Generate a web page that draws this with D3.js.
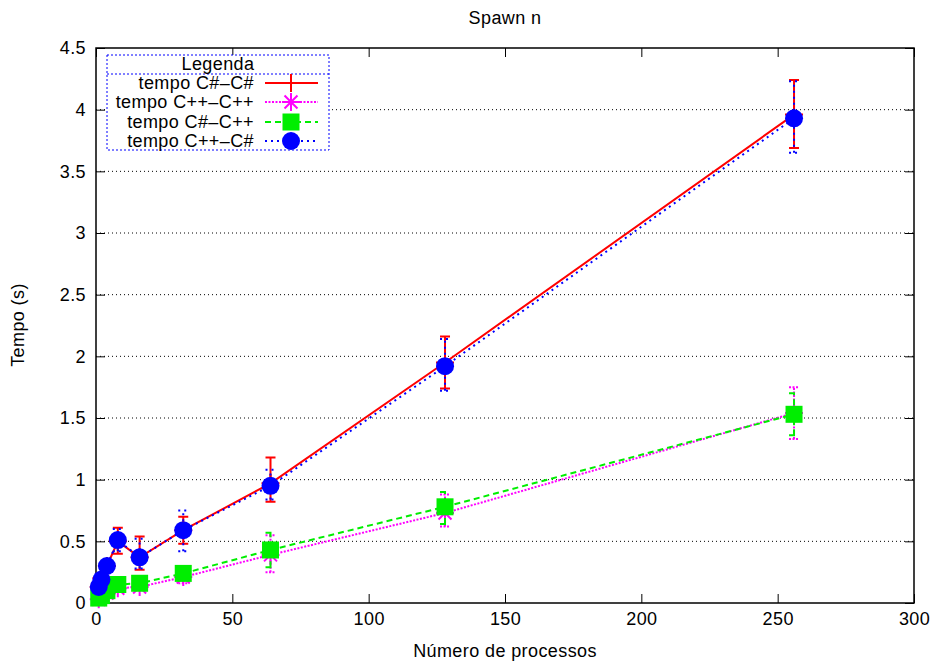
<!DOCTYPE html>
<html>
<head>
<meta charset="utf-8">
<script src="https://cdn.jsdelivr.net/npm/d3@7"></script>
<style>
  body { margin: 0; background: #fff; }
  svg { display: block; font-family: "Liberation Sans", Arial, sans-serif; }
  svg text { letter-spacing: 0.4px; }
</style>
</head>
<body>
<svg id="chart" width="934" height="661"></svg>
<script>
// Number of spawned processes
const procs = [1, 2, 4, 8, 16, 32, 64, 128, 256];

// Mean time (s) and error range for each language pairing
const csCsMean = [0.13, 0.20, 0.30, 0.50, 0.37, 0.59, 0.97, 1.95, 3.96];
const csCsLow  = [0.11, 0.17, 0.27, 0.40, 0.27, 0.48, 0.82, 1.74, 3.69];
const csCsHigh = [0.15, 0.23, 0.33, 0.61, 0.54, 0.70, 1.18, 2.16, 4.24];

const cppCppMean = [0.03, 0.05, 0.08, 0.12, 0.13, 0.21, 0.39, 0.73, 1.54];
const cppCppLow  = [0.01, 0.03, 0.06, 0.10, 0.11, 0.16, 0.25, 0.62, 1.33];
const cppCppHigh = [0.05, 0.07, 0.10, 0.17, 0.18, 0.27, 0.55, 0.88, 1.75];

const csCppMean = [0.04, 0.06, 0.10, 0.15, 0.16, 0.24, 0.43, 0.78, 1.53];
const csCppLow  = [0.02, 0.04, 0.08, 0.13, 0.14, 0.20, 0.29, 0.64, 1.36];
const csCppHigh = [0.06, 0.08, 0.12, 0.18, 0.19, 0.29, 0.57, 0.90, 1.70];

const cppCsMean = [0.13, 0.19, 0.30, 0.51, 0.37, 0.59, 0.95, 1.92, 3.93];
const cppCsLow  = [0.11, 0.16, 0.27, 0.42, 0.28, 0.42, 0.84, 1.72, 3.65];
const cppCsHigh = [0.15, 0.22, 0.33, 0.60, 0.52, 0.75, 1.08, 2.14, 4.23];

const seriesNames = ["tempo C#\u2013C#", "tempo C++\u2013C++", "tempo C#\u2013C++", "tempo C++\u2013C#"];

const xTicks = [0, 50, 100, 150, 200, 250, 300];
const yTicks = [0, 0.5, 1, 1.5, 2, 2.5, 3, 3.5, 4, 4.5];

const series = [
  { name: seriesNames[0], mean: csCsMean, low: csCsLow, high: csCsHigh,
    color: "#ff0000", dash: null, symbol: "plus" },
  { name: seriesNames[1], mean: cppCppMean, low: cppCppLow, high: cppCppHigh,
    color: "#ff00ff", dash: "2,1.5", symbol: "star" },
  { name: seriesNames[2], mean: csCppMean, low: csCppLow, high: csCppHigh,
    color: "#00ee00", dash: "6,4", symbol: "square" },
  { name: seriesNames[3], mean: cppCsMean, low: cppCsLow, high: cppCsHigh,
    color: "#0000ff", dash: "2,4", symbol: "circle" }
];

const FS = 18;
const svg = d3.select("#chart");
const plotL = 96, plotR = 914, plotT = 48, plotB = 603;

const x = d3.scaleLinear().domain([0, 300]).range([plotL, plotR]);
const y = d3.scaleLinear().domain([0, 4.5]).range([plotB, plotT]);

// Horizontal dotted grid
svg.append("g").selectAll("line")
  .data(yTicks.filter(t => t > 0 && t < 4.5))
  .join("line")
  .attr("x1", plotL).attr("x2", plotR)
  .attr("y1", d => y(d)).attr("y2", d => y(d))
  .attr("stroke", "#000").attr("stroke-width", 1)
  .attr("stroke-dasharray", "1,3");

// Axes with inward ticks, mirrored on top/right
const tickLen = 9;
const axB = svg.append("g").attr("transform", `translate(0,${plotB})`)
  .call(d3.axisBottom(x).tickValues(xTicks).tickSize(-tickLen).tickPadding(9).tickFormat(d3.format("d")));
const axT = svg.append("g").attr("transform", `translate(0,${plotT})`)
  .call(d3.axisTop(x).tickValues(xTicks).tickSize(-tickLen).tickFormat(""));
const axL = svg.append("g").attr("transform", `translate(${plotL},0)`)
  .call(d3.axisLeft(y).tickValues(yTicks).tickSize(-tickLen).tickPadding(10).tickFormat(d => String(d)));
const axR = svg.append("g").attr("transform", `translate(${plotR},0)`)
  .call(d3.axisRight(y).tickValues(yTicks).tickSize(-tickLen).tickFormat(""));
[axB, axT, axL, axR].forEach(a => {
  a.select(".domain").remove();
  a.selectAll("line").attr("stroke", "#000").attr("stroke-width", 1);
  a.selectAll("text").attr("font-size", FS).attr("fill", "#000")
    .attr("font-family", "'Liberation Sans', Arial, sans-serif");
});

// Frame
svg.append("rect").attr("x", plotL).attr("y", plotT)
  .attr("width", plotR - plotL).attr("height", plotB - plotT)
  .attr("fill", "none").attr("stroke", "#000").attr("stroke-width", 1.5);

// Symbol drawing
function drawSymbol(g, type, cx, cy, color) {
  if (type === "plus") {
    g.append("path").attr("d", `M${cx - 9},${cy}H${cx + 9}M${cx},${cy - 9}V${cy + 9}`)
      .attr("stroke", color).attr("stroke-width", 2).attr("fill", "none");
  } else if (type === "star") {
    const r = 9;
    let d = `M${cx - r},${cy}H${cx + r}M${cx},${cy - r}V${cy + r}`;
    const q = r * 0.72;
    d += `M${cx - q},${cy - q}L${cx + q},${cy + q}M${cx - q},${cy + q}L${cx + q},${cy - q}`;
    g.append("path").attr("d", d).attr("stroke", color).attr("stroke-width", 2).attr("fill", "none");
  } else if (type === "square") {
    g.append("rect").attr("x", cx - 8.5).attr("y", cy - 8.5).attr("width", 17).attr("height", 17)
      .attr("fill", color);
  } else if (type === "circle") {
    g.append("circle").attr("cx", cx).attr("cy", cy).attr("r", 9).attr("fill", color);
  }
}

const line = d3.line().x(d => x(d[0])).y(d => y(d[1]));

series.forEach(s => {
  const g = svg.append("g");
  const pts = procs.map((p, i) => [p, s.mean[i], s.low[i], s.high[i]]);
  // error bars
  pts.forEach(p => {
    const px = x(p[0]), yl = y(p[2]), yh = y(p[3]);
    g.append("path")
      .attr("d", `M${px},${yl}V${yh}M${px - 5},${yl}H${px + 5}M${px - 5},${yh}H${px + 5}`)
      .attr("stroke", s.color).attr("stroke-width", 2).attr("fill", "none")
      .attr("stroke-dasharray", s.dash);
  });
  // connecting line
  g.append("path").datum(pts).attr("d", line)
    .attr("fill", "none").attr("stroke", s.color).attr("stroke-width", 2)
    .attr("stroke-dasharray", s.dash);
  // points
  pts.forEach(p => drawSymbol(g, s.symbol, x(p[0]), y(p[1]), s.color));
});

// Legend
const lg = svg.append("g");
const lx0 = 107, ly0 = 55, lw = 222, lh = 95;
lg.append("rect").attr("x", lx0).attr("y", ly0).attr("width", lw).attr("height", lh)
  .attr("fill", "#fff").attr("stroke", "#0000ff").attr("stroke-width", 1)
  .attr("stroke-dasharray", "2,2");
lg.append("line").attr("x1", lx0).attr("x2", lx0 + lw).attr("y1", 74).attr("y2", 74)
  .attr("stroke", "#0000ff").attr("stroke-width", 1).attr("stroke-dasharray", "2,2");
lg.append("text").attr("x", 218).attr("y", 70).attr("text-anchor", "middle")
  .attr("font-size", FS).text("Legenda");
const rowY = [83, 102, 122, 141];
series.forEach((s, i) => {
  const ry = rowY[i];
  lg.append("text").attr("x", 254).attr("y", ry + 6).attr("text-anchor", "end")
    .attr("font-size", FS).text(s.name);
  lg.append("line").attr("x1", 265).attr("x2", 318).attr("y1", ry).attr("y2", ry)
    .attr("stroke", s.color).attr("stroke-width", 2).attr("stroke-dasharray", s.dash);
  drawSymbol(lg, s.symbol, 291, ry, s.color);
});

// Titles
svg.append("text").attr("x", 505).attr("y", 24).attr("text-anchor", "middle")
  .attr("font-size", FS).text("Spawn n");
svg.append("text").attr("x", 505).attr("y", 657).attr("text-anchor", "middle")
  .attr("font-size", FS).text("Número de processos");
svg.append("text").attr("transform", "translate(24,325) rotate(-90)")
  .attr("text-anchor", "middle").attr("font-size", FS).text("Tempo (s)");
</script>
</body>
</html>
